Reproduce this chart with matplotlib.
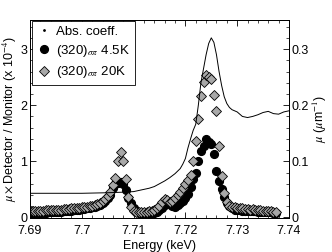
import matplotlib
matplotlib.use('Agg')
import matplotlib.pyplot as plt
from matplotlib.lines import Line2D
from matplotlib.ticker import MultipleLocator

plt.rcParams['font.family'] = ['Liberation Sans', 'DejaVu Sans']
plt.rcParams['mathtext.fontset'] = 'stix'

# scan energies (keV), 0.5 eV steps
scan_energy = [
    7.6900, 7.6905, 7.6910, 7.6915, 7.6920, 7.6925, 7.6930, 7.6935, 7.6940, 7.6945,
    7.6950, 7.6955, 7.6960, 7.6965, 7.6970, 7.6975, 7.6980, 7.6985, 7.6990, 7.6995,
    7.7000, 7.7005, 7.7010, 7.7015, 7.7020, 7.7025, 7.7030, 7.7035, 7.7040, 7.7045,
    7.7050, 7.7055, 7.7060, 7.7065, 7.7070, 7.7075, 7.7080, 7.7085, 7.7090, 7.7095,
    7.7100, 7.7105, 7.7110, 7.7115, 7.7120, 7.7125, 7.7130, 7.7135, 7.7140, 7.7145,
    7.7150, 7.7155, 7.7160, 7.7165, 7.7170, 7.7175, 7.7180, 7.7185, 7.7190, 7.7195,
    7.7200, 7.7205, 7.7210, 7.7215, 7.7220, 7.7225, 7.7230, 7.7235, 7.7240, 7.7245,
    7.7250, 7.7255, 7.7260, 7.7265, 7.7270, 7.7275, 7.7280, 7.7285, 7.7290, 7.7295,
    7.7300, 7.7305, 7.7310, 7.7315, 7.7320, 7.7325, 7.7330, 7.7335, 7.7340, 7.7345,
    7.7350, 7.7355, 7.7360, 7.7365, 7.7370, 7.7375,
]

# (320) sigma-pi intensity at 4.5 K (x 1e-4)
int_45K = [
    .07, .07, .07, .08, .08, .08, .08, .09, .09, .09,
    .10, .10, .10, .11, .11, .12, .12, .13, .13, .14,
    .15, .15, .16, .17, .18, .19, .21, .23, .26, .30,
    .34, .40, .52, .60, .62, .64, .60, .48, .34, .25,
    .17, .12, .08, .06, .05, .05, .05, .06, .08, .10,
    .13, .17, .22, .25, .24, .20, .18, .22, .26, .29,
    .35, .42, .54, .68, .80, 1.00, 1.19, 1.27, 1.40, 1.34,
    1.31, 1.13, .83, .65, .50, .36, .26, .20, .16, .14,
    .13, .13, .12, .12, .12, .11, .11, .11, .10, .10,
    .10, .09, .09, .09, .08, .08,
]

# (320) sigma-pi intensity at 20 K (x 1e-4)
int_20K = [
    .11, .11, .12, .12, .12, .12, .13, .13, .13, .13,
    .14, .14, .14, .15, .15, .15, .16, .16, .17, .17,
    .18, .18, .19, .20, .21, .22, .24, .26, .29, .33,
    .38, .45, .57, .71, 1.01, 1.16, 1.01, .69, .36, .18,
    .12, .10, .09, .09, .10, .10, .11, .12, .14, .17,
    .21, .27, .32, .31, .27, .30, .35, .40, .45, .53,
    .60, .66, .76, 1.00, 1.36, 1.75, 2.16, 2.42, 2.54, 2.50,
    2.46, 2.19, 1.89, 1.27, .74, .43, .27, .21, .19, .18,
    .17, .16, .16, .15, .15, .14, .15, .14, .13, .13,
    .12, .12, .11, .11, .10, .10,
]

# absorption coefficient (1/um)
abs_energy = [
    7.6900, 7.6950, 7.7000, 7.7050, 7.7080, 7.7100, 7.7110, 7.7120, 7.7130, 7.7140,
    7.7150, 7.7160, 7.7170, 7.7180, 7.7190, 7.7195, 7.7200, 7.7205, 7.7210, 7.7215,
    7.7220, 7.7225, 7.7230, 7.7235, 7.7240, 7.7245, 7.7250, 7.7255, 7.7260, 7.7265,
    7.7270, 7.7275, 7.7280, 7.7285, 7.7290, 7.7300, 7.7310, 7.7320, 7.7330, 7.7340,
    7.7350, 7.7360, 7.7370, 7.7380, 7.7390, 7.7400,
]
abs_coeff = [
    .043, .043, .043, .044, .045, .046, .048, .050, .052, .055,
    .060, .065, .071, .078, .087, .095, .105, .124, .140, .155,
    .166, .200, .240, .265, .290, .310, .320, .312, .290, .260,
    .235, .215, .203, .196, .192, .188, .180, .178, .180, .183,
    .187, .189, .185, .184, .188, .190,
]

fig = plt.figure(figsize=(3.32, 2.52), dpi=100)
ax = fig.add_axes([0.0904, 0.135, 0.780, 0.786])
ax2 = ax.twinx()

ax.plot(scan_energy, int_45K, 'o', color='k', ms=5.6, zorder=2)
ax.plot(scan_energy, int_20K, 'D', mfc='#a8a8a8', mec='k', mew=0.6, ms=5.0, zorder=3)
ax2.plot(abs_energy, abs_coeff, '-', color='k', lw=0.7)

ax.set_xlim(7.69, 7.74)
ax.set_ylim(-0.01, 3.52)
ax2.set_ylim(-0.001, 0.352)

ax.set_xticks([7.69, 7.70, 7.71, 7.72, 7.73, 7.74])
ax.set_xticklabels(['7.69', '7.7', '7.71', '7.72', '7.73', '7.74'])
ax.set_yticks([0, 1, 2, 3])
ax2.set_yticks([0, 0.1, 0.2, 0.3])
ax2.set_yticklabels(['0', '0.1', '0.2', '0.3'])
ax.xaxis.set_minor_locator(MultipleLocator(0.002))
ax.yaxis.set_minor_locator(MultipleLocator(0.2))
ax2.yaxis.set_minor_locator(MultipleLocator(0.02))

ax.tick_params(which='both', direction='in', top=True, right=False, labelsize=9, pad=2)
ax.tick_params(axis='x', which='major', pad=5)
ax.tick_params(which='major', length=4, width=0.6)
ax.tick_params(which='minor', length=2, width=0.5)
ax2.tick_params(which='both', direction='in', labelsize=9, pad=2)
ax2.tick_params(which='major', length=4, width=0.6)
ax2.tick_params(which='minor', length=2, width=0.5)
for a in (ax, ax2):
    for s in a.spines.values():
        s.set_linewidth(0.7)

ax.set_xlabel('Energy (keV)', fontsize=9, labelpad=2.5)
ax.set_ylabel(r'$\mu\times$Detector / Monitor (x 10$^{-4}$)', fontsize=9, labelpad=1)
ax2.set_ylabel(r'$\mu$ ($\mu$m$^{-1}$)', fontsize=9, labelpad=1)

handles = [
    Line2D([], [], ls='none', marker='.', color='k', ms=2),
    Line2D([], [], ls='none', marker='o', color='k', ms=5.6),
    Line2D([], [], ls='none', marker='D', mfc='#a8a8a8', mec='k', mew=0.6, ms=5.0),
]
labels = ['Abs. coeff.', r'(320)$_{\sigma\pi}$ 4.5K', r'(320)$_{\sigma\pi}$ 20K']
leg = ax2.legend(handles, labels, loc='upper left', bbox_to_anchor=(0.008, 0.995),
                 fontsize=9.5, frameon=True, fancybox=False, framealpha=1,
                 edgecolor='k', borderpad=0.35, handletextpad=0.4,
                 handlelength=1.1, labelspacing=0.4, borderaxespad=0)
leg.get_frame().set_linewidth(0.6)

fig.savefig('out.png', dpi=100)
